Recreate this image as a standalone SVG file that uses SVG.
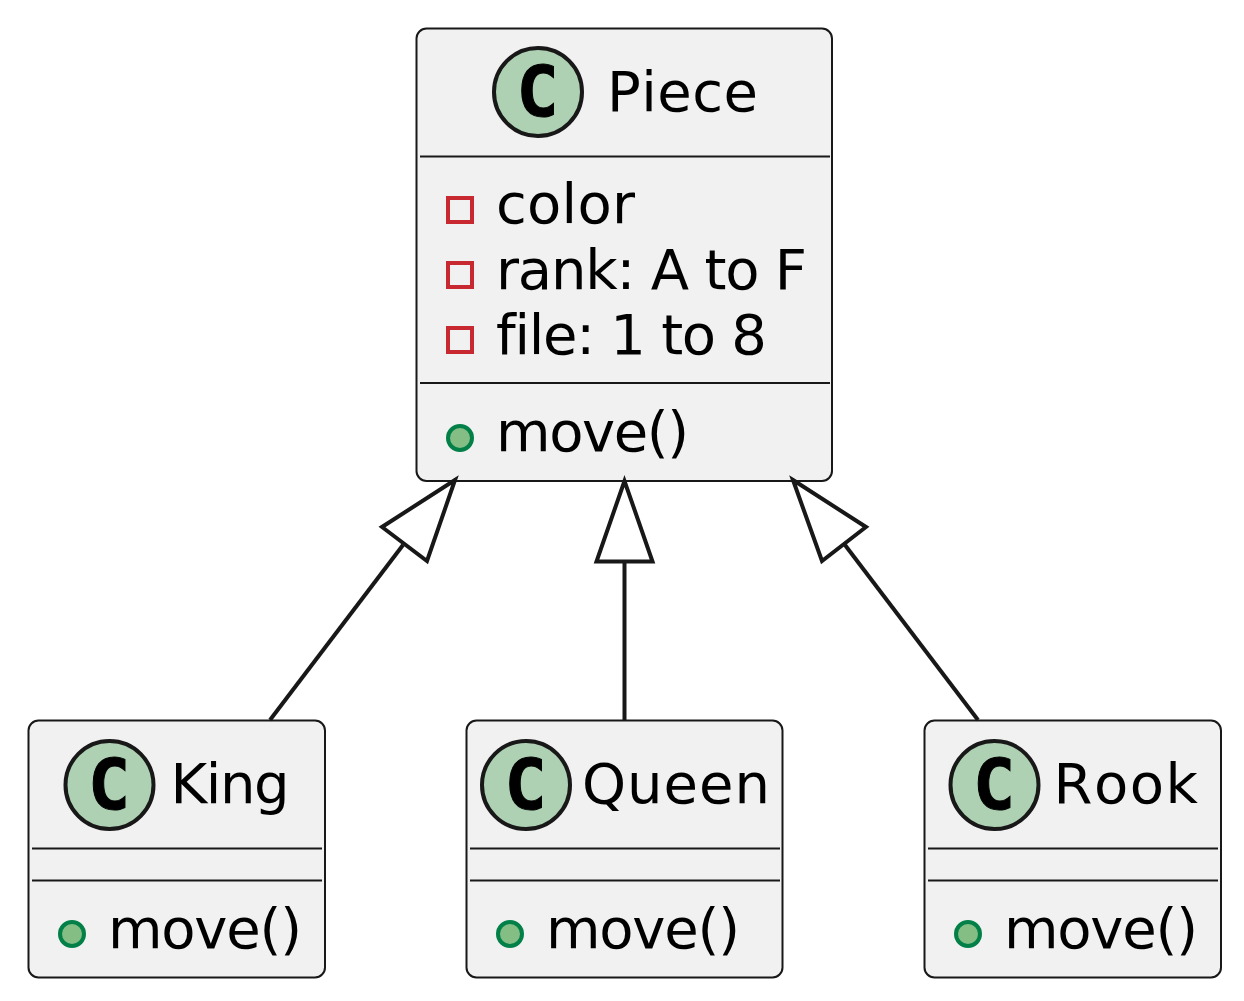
<svg xmlns="http://www.w3.org/2000/svg" width="1244" height="1001" viewBox="0 0 1244 1001">
<style>
.box{fill:#F1F1F1;stroke:#181818;stroke-width:2}
.div{stroke:#181818;stroke-width:2;fill:none}
.spot{fill:#ADD1B2;stroke:#181818;stroke-width:4}
.c{font-family:"DejaVu Sans Mono",monospace;font-weight:bold;font-size:70px;text-anchor:middle;fill:#000;stroke:#000;stroke-width:1}
.t{font-family:"DejaVu Sans",sans-serif;font-size:56px;fill:#000;font-variant-ligatures:none;font-kerning:none}
.priv{fill:none;stroke:#C82930;stroke-width:4}
.pub{fill:#84BE84;stroke:#038048;stroke-width:4}
.edge{fill:none;stroke:#181818;stroke-width:4}
.head{fill:#fff;stroke:#181818;stroke-width:4}
</style>
<rect width="1244" height="1001" fill="#fff"/>
<g id="Piece">
<rect class="box" x="416.500" y="28.500" width="415.500" height="452.500" rx="10"/>
<circle class="spot" cx="538" cy="92" r="44"/>
<text class="c" x="537.500" y="116">C</text>
<text class="t" x="607" y="110.500" textLength="151" lengthAdjust="spacing">Piece</text>
<line class="div" x1="420" y1="156.500" x2="830" y2="156.500"/>
<rect class="priv" x="448" y="198" width="24" height="24"/>
<text class="t" x="496" y="223" textLength="139" lengthAdjust="spacing">color</text>
<rect class="priv" x="448" y="263" width="24" height="24"/>
<text class="t" x="496" y="288.500" textLength="311" lengthAdjust="spacing">rank: A to F</text>
<rect class="priv" x="448" y="328" width="24" height="24"/>
<text class="t" x="496" y="354" textLength="271" lengthAdjust="spacing">file: 1 to 8</text>
<line class="div" x1="420" y1="383" x2="830" y2="383"/>
<circle class="pub" cx="460" cy="438" r="12"/>
<text class="t" x="496" y="451" textLength="193" lengthAdjust="spacing">move()</text>
</g>
<g id="King">
<rect class="box" x="28.500" y="720.500" width="296.500" height="257" rx="10"/>
<circle class="spot" cx="109.500" cy="785" r="44"/>
<text class="c" x="109" y="809">C</text>
<text class="t" x="170.500" y="803" textLength="119" lengthAdjust="spacing">King</text>
<line class="div" x1="32" y1="848.500" x2="322" y2="848.500"/>
<line class="div" x1="32" y1="880.500" x2="322" y2="880.500"/>
<circle class="pub" cx="72" cy="934" r="12"/>
<text class="t" x="108" y="948" textLength="194" lengthAdjust="spacing">move()</text>
</g>
<g id="Queen">
<rect class="box" x="466.500" y="720.500" width="316" height="257" rx="10"/>
<circle class="spot" cx="526" cy="785" r="44"/>
<text class="c" x="525.500" y="809">C</text>
<text class="t" x="582" y="803" textLength="188" lengthAdjust="spacing">Queen</text>
<line class="div" x1="470" y1="848.500" x2="780" y2="848.500"/>
<line class="div" x1="470" y1="880.500" x2="780" y2="880.500"/>
<circle class="pub" cx="510" cy="934" r="12"/>
<text class="t" x="546" y="948" textLength="194" lengthAdjust="spacing">move()</text>
</g>
<g id="Rook">
<rect class="box" x="924.500" y="720.500" width="296.500" height="257" rx="10"/>
<circle class="spot" cx="994.500" cy="785" r="44"/>
<text class="c" x="994" y="809">C</text>
<text class="t" x="1053.500" y="803" textLength="144.500" lengthAdjust="spacing">Rook</text>
<line class="div" x1="928" y1="848.500" x2="1218" y2="848.500"/>
<line class="div" x1="928" y1="880.500" x2="1218" y2="880.500"/>
<circle class="pub" cx="968" cy="934" r="12"/>
<text class="t" x="1004" y="948" textLength="194" lengthAdjust="spacing">move()</text>
</g>
<g id="connectors">
<path class="edge" d="M270 720L403 545"/>
<polygon class="head" points="455,480 382,527 427,561"/>
<path class="edge" d="M624.500 720V562"/>
<polygon class="head" points="624.500,481 596.500,561.500 652.500,561.500"/>
<path class="edge" d="M978 720L845 545"/>
<polygon class="head" points="793,480 866,527 822,561"/>
</g>
</svg>
